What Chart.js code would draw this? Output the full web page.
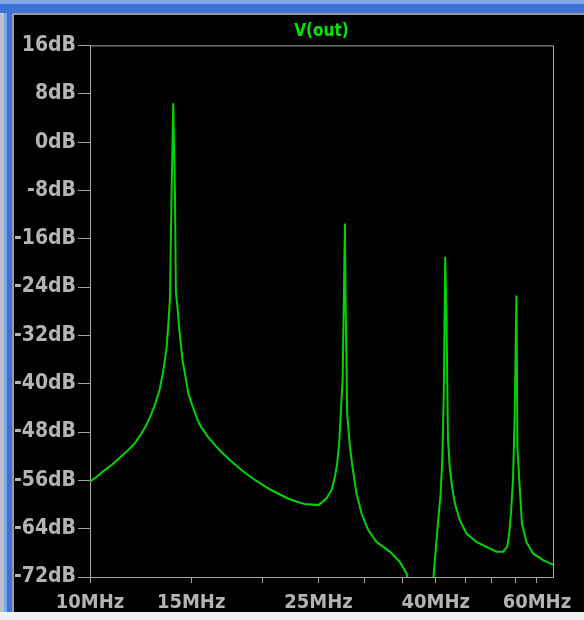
<!DOCTYPE html>
<html>
<head>
<meta charset="utf-8">
<script src="https://cdn.jsdelivr.net/npm/chart.js@4"></script>
<style>
  html, body { margin: 0; padding: 0; }
  body { width: 584px; height: 620px; background: #eef0f4; position: relative; overflow: hidden; }
  .chrome-left { position: absolute; left: 0; top: 0; width: 12px; height: 612px;
    background: linear-gradient(to right, #b9c3d2 0 4px, #7fa6e6 4px 7px, #3f72d8 7px 12px); }
  .chrome-top { position: absolute; left: 0; top: 0; width: 584px; height: 13px;
    background: linear-gradient(to bottom, #7fa6e6 0 4px, #3f72d8 4px 13px); }
  .frame { position: absolute; left: 12px; top: 13px; width: 572px; height: 599px; box-sizing: border-box;
    background: #000; border-left: 2px solid #9a9a9a; border-top: 2px solid #9a9a9a; }
  .frame canvas { display: block; }
</style>
</head>
<body>
<div class="chrome-left"></div>
<div class="chrome-top"></div>
<div class="frame"><canvas id="chartCanvas" width="570" height="597"></canvas></div>
<script>
// AC sweep: frequency (MHz) and magnitude (dB)
const freqMHz = [
  10.0, 10.25, 10.61, 10.96, 11.34, 11.65, 11.96, 12.28, 12.53, 12.79, 12.96, 13.22, 13.42, 13.60, 13.68,
  13.78, 13.87, 13.96, 14.06, 14.11, 14.21, 14.30, 14.40, 14.49, 14.63, 14.83, 15.13, 15.42, 15.62, 16.05,
  16.48, 16.93, 17.50, 18.10, 18.71, 19.35, 20.0, 20.68, 21.38, 22.11, 22.86, 23.64, 25.0, 25.8, 26.34,
  26.70, 26.94, 27.16, 27.35, 27.54, 27.79, 27.86, 28.04, 28.35, 28.65, 29.11, 29.71, 30.50, 31.55, 33.27,
  34.63, 35.57, 36.3, 37.5, 38.6, 39.3, 39.69, 39.99, 40.21, 40.49, 40.77, 41.05, 41.31, 41.54, 41.76,
  42.0, 42.3, 42.72, 43.17, 44.05, 45.25, 47.10, 49.0, 51.03, 52.4, 53.25, 53.7, 54.1, 54.53, 54.9,
  55.27, 55.5, 56.0, 56.5, 57.54, 59.07, 61.5, 63.8, 64.0
];
const magDB = [
  -56.2, -55.5, -54.3, -53.3, -52.0, -51.0, -49.9, -48.3, -46.9, -45.0, -43.6, -41.0, -37.8, -33.9, -30.6,
  -25.9, -8.3, 6.4, -8.8, -24.8, -27.6, -30.9, -33.6, -36.1, -38.3, -41.6, -44.1, -46.2, -47.2, -48.8,
  -50.1, -51.3, -52.6, -53.8, -54.9, -55.9, -56.8, -57.6, -58.3, -59.0, -59.5, -59.9, -60.1, -59.0, -57.6,
  -55.4, -53.2, -49.9, -44.4, -39.1, -13.5, -25.6, -44.9, -50.4, -53.8, -58.2, -61.5, -64.2, -66.2, -67.8,
  -69.5, -71.4, -74.8, -79.0, -84.0, -76.5, -71.4, -67.5, -64.8, -61.5, -58.4, -52.9, -41.3, -19.0, -29.2,
  -49.1, -53.8, -57.1, -59.8, -62.6, -64.8, -66.2, -67.0, -67.8, -67.8, -67.0, -64.8, -61.2, -55.7, -44.9,
  -25.4, -50.7, -57.1, -63.1, -66.2, -68.1, -69.2, -69.9, -70.0
];

const xTicks = [10, 15, 20, 25, 30, 35, 40, 45, 50, 55, 60];
const xLabeled = [10, 15, 25, 40, 60];
const yTicks = [16, 8, 0, -8, -16, -24, -32, -40, -48, -56, -64, -72];

const axisColor = '#a6a6a6';
const labelColor = '#b4b4b4';
const fontFamily = "'DejaVu Sans Condensed', 'DejaVu Sans', sans-serif";

// top and right edges of the plot box
const plotFrame = {
  id: 'plotFrame',
  afterDraw(chart) {
    const { ctx, chartArea: a } = chart;
    ctx.save();
    ctx.strokeStyle = axisColor;
    ctx.lineWidth = 1;
    ctx.beginPath();
    ctx.moveTo(a.left, a.top + 0.5);
    ctx.lineTo(a.right + 0.5, a.top + 0.5);
    ctx.lineTo(a.right + 0.5, a.bottom);
    ctx.stroke();
    ctx.restore();
  }
};

const points = freqMHz.map((f, i) => ({ x: f, y: magDB[i] }));

new Chart(document.getElementById('chartCanvas').getContext('2d'), {
  type: 'line',
  data: {
    datasets: [{
      label: 'V(out)',
      data: points,
      borderColor: '#00d400',
      borderWidth: 2,
      pointRadius: 0,
      tension: 0,
      clip: 0
    }]
  },
  options: {
    responsive: false,
    animation: false,
    layout: { padding: { left: 0, right: 31, top: 0, bottom: 0 } },
    scales: {
      x: {
        type: 'logarithmic',
        min: 10,
        max: 64,
        afterBuildTicks: s => { s.ticks = xTicks.map(v => ({ value: v })); },
        afterFit: s => { s.height = 35; },
        ticks: {
          autoSkip: false,
          maxRotation: 0,
          padding: 8,
          color: labelColor,
          font: { family: fontFamily, size: 20, weight: 'bold' },
          callback: v => xLabeled.includes(v) ? v + 'MHz' : ''
        },
        grid: { drawOnChartArea: false, tickLength: 6, color: axisColor },
        border: { color: axisColor, width: 1 }
      },
      y: {
        min: -72,
        max: 16,
        afterBuildTicks: s => { s.ticks = yTicks.map(v => ({ value: v })); },
        afterFit: s => { s.width = 76; },
        ticks: {
          padding: 2,
          color: labelColor,
          font: { family: fontFamily, size: 21, weight: 'bold' },
          callback: v => v + 'dB'
        },
        grid: { drawOnChartArea: false, tickLength: 12, color: axisColor },
        border: { color: axisColor, width: 1 }
      }
    },
    plugins: {
      legend: { display: false },
      tooltip: { enabled: false },
      title: {
        display: true,
        text: 'V(out)',
        fullSize: false,
        color: '#00e400',
        padding: { top: 6, bottom: 4 },
        font: { family: fontFamily, size: 17, weight: 'bold', lineHeight: 1.2 }
      }
    }
  },
  plugins: [plotFrame]
});
</script>
</body>
</html>
